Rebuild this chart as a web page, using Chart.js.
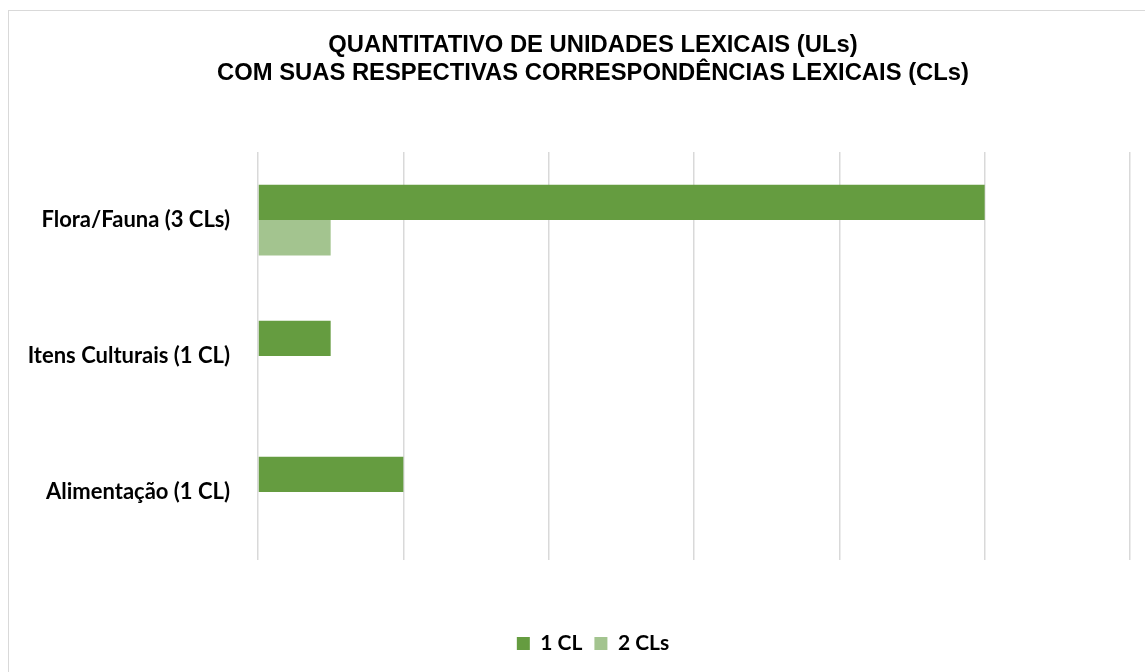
<!DOCTYPE html>
<html>
<head>
<meta charset="utf-8">
<script src="https://cdn.jsdelivr.net/npm/chart.js@4"></script>
<style>
    html, body { margin: 0; padding: 0; background: #fff; overflow: hidden; }
    #frame {
        position: absolute; left: 8px; top: 10px;
        width: 1170px; height: 700px;
        border: 1px solid #d9d9d9; box-sizing: border-box;
    }
    #wrap { position: absolute; left: 8px; top: 10px; width: 1170px; height: 662px; }
</style>
</head>
<body>
<div id="frame"></div>
<div id="wrap"><canvas id="chart"></canvas></div>
<script>
    // Chart data
    const categories = ['Flora/Fauna (3 CLs)', 'Itens Culturais (1 CL)', 'Alimentação (1 CL)'];
    const oneCL = [10, 1, 2];
    const twoCLs = [1, 0, 0];
    const xTicks = [0, 2, 4, 6, 8, 10, 12];

    const labelFont = { family: 'Lato', weight: 'bold', size: 22 };

    const ctx = document.getElementById('chart').getContext('2d');
    new Chart(ctx, {
        type: 'bar',
        data: {
            labels: categories,
            datasets: [{
                label: '1 CL',
                data: oneCL,
                backgroundColor: '#659c40',
                borderWidth: 0,
                categoryPercentage: 0.52,
                barPercentage: 1
            }, {
                label: '2 CLs',
                data: twoCLs,
                backgroundColor: '#a3c48f',
                borderWidth: 0,
                categoryPercentage: 0.52,
                barPercentage: 1
            }]
        },
        options: {
            indexAxis: 'y',
            responsive: true,
            maintainAspectRatio: false,
            animation: false,
            layout: { padding: { left: 0, right: 0, bottom: 8 } },
            plugins: {
                title: {
                    display: true,
                    text: ['QUANTITATIVO DE UNIDADES LEXICAIS (ULs)', 'COM SUAS RESPECTIVAS CORRESPONDÊNCIAS LEXICAIS (CLs)'],
                    color: '#000',
                    font: { family: 'Liberation Sans', weight: 'bold', size: 23.8, lineHeight: 1.2 },
                    padding: { top: 21, bottom: 64 }
                },
                legend: {
                    position: 'bottom',
                    labels: {
                        color: '#000',
                        font: { family: 'Lato', weight: 'bold', size: 21 },
                        boxWidth: 13,
                        boxHeight: 13,
                        padding: 12
                    }
                },
                tooltip: { enabled: false }
            },
            scales: {
                x: {
                    min: 0,
                    max: 12,
                    afterBuildTicks: function(scale) {
                        scale.ticks = xTicks.map(v => ({ value: v }));
                    },
                    afterFit: function(scale) { scale.height = 61; },
                    ticks: { display: false },
                    grid: { color: '#d9d9d9', lineWidth: 1.5, drawTicks: false },
                    border: { display: false }
                },
                y: {
                    afterFit: function(scale) { scale.width = 250; },
                    ticks: { color: '#000', font: labelFont, padding: 28 },
                    grid: { display: false, drawTicks: false },
                    border: { display: false }
                },
                // empty right-hand axis, only keeps room on the right of the plot
                yRight: {
                    type: 'category',
                    position: 'right',
                    afterFit: function(scale) { scale.width = 48; },
                    ticks: { display: false },
                    grid: { display: false, drawTicks: false },
                    border: { display: false }
                }
            }
        }
    });
</script>
</body>
</html>
